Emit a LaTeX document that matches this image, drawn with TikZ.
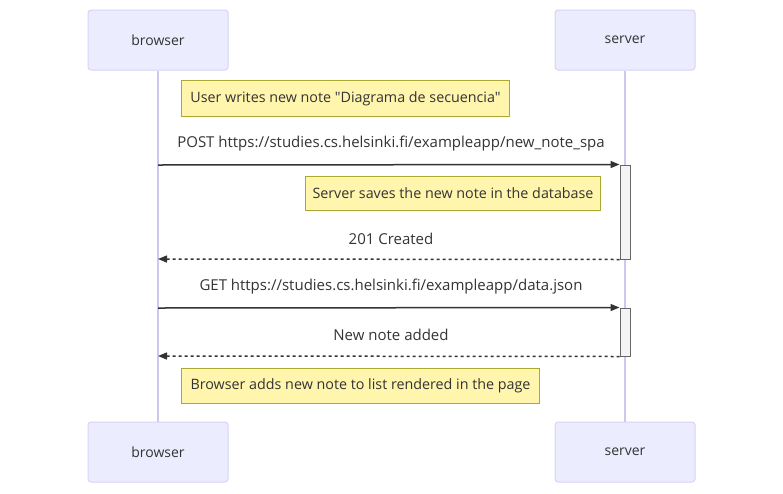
\documentclass[tikz,border=0pt]{standalone}
\usepackage{fontspec}
\setmainfont{Open Sans}[Ligatures=TeXOff]
\usetikzlibrary{positioning,arrows.meta}

\definecolor{ink}{HTML}{333333}
\definecolor{actorfill}{HTML}{ECECFF}
\definecolor{actorline}{HTML}{D9D2F7}
\definecolor{lifeline}{HTML}{CFC7F2}
\definecolor{notefill}{HTML}{FFF5AD}
\definecolor{noteline}{HTML}{AAAA33}
\definecolor{actfill}{HTML}{F4F4F4}
\definecolor{actline}{HTML}{666666}

\tikzset{
  actor/.style={draw=actorline, fill=actorfill, rounded corners=3pt, minimum width=140, minimum height=60, line width=1pt, font=\fontsize{14}{16}\selectfont},
  life/.style={draw=lifeline, line width=1.5pt},
  note/.style={draw=noteline, fill=notefill, line width=1pt, anchor=north west, inner sep=0pt, font=\fontsize{14.3}{16}\selectfont},
  lbl/.style={font=\fontsize{15}{17}\selectfont},
  activ/.style={draw=actline, fill=actfill, line width=1pt, minimum width=10, inner sep=0pt},
  msg/.style={draw=ink, line width=1.5pt, -{Triangle[length=9pt, width=7pt]}},
  ret/.style={msg, dash pattern=on 3pt off 3pt},
}

\begin{document}
\begin{tikzpicture}[x=1pt, y=-1pt, text=ink]
\useasboundingbox (0,0) rectangle (783,493);

% participants
\node[actor] (B1) at (158,40) {browser};
\node[actor] (S1) at (625,40) {server};
\node[actor] (B2) at (158,452) {browser};
\node[actor] (S2) at (625,452) {server};
\draw[life] (B1) -- (B2);
\draw[life] (S1) -- (S2);

% activations
\node[activ, minimum height=94] (A1) at (625,212) {};
\node[activ, minimum height=48] (A2) at (625,332) {};

\coordinate (p1) at (158,165);
\coordinate (p2) at (158,259);
\coordinate (p3) at (158,308);
\coordinate (p4) at (158,356);

% notes
\node[note, minimum width=328, minimum height=36] (N1) at (181,80) {User writes new note "Diagrama de secuencia"};
\node[note, minimum width=295, minimum height=34] (N2) at (305,176) {Server saves the new note in the database};
\node[note, minimum width=358, minimum height=35] (N3) at (181,368) {Browser adds new note to list rendered in the page};

% messages
\node[lbl] (L1) at (391,144) {POST https://studies.cs.helsinki.fi/exampleapp/new\_note\_spa};
\draw[msg] (p1) -- (A1.north west);
\node[lbl] (L2) at (391,239) {201 Created};
\draw[ret] (A1.south west) -- (p2);
\node[lbl] (L3) at (391,287) {GET https://studies.cs.helsinki.fi/exampleapp/data.json};
\draw[msg] (p3) -- (A2.north west);
\node[lbl] (L4) at (391,335) {New note added};
\draw[ret] (A2.south west) -- (p4);
\end{tikzpicture}
\end{document}
